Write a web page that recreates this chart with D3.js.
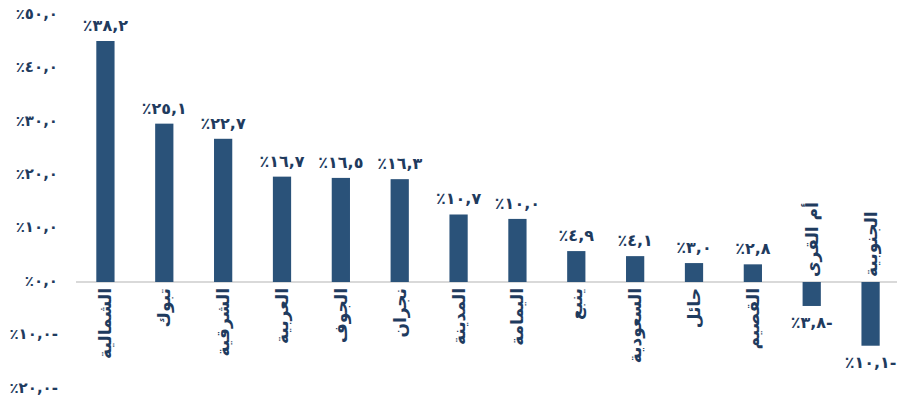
<!DOCTYPE html>
<html lang="ar">
<head>
    <meta charset="UTF-8">
    <title>chart</title>
    <script src="https://cdn.jsdelivr.net/npm/d3@7"></script>
    <style>
        body { margin: 0; background: #fff; }
        text { font-family: "DejaVu Sans", sans-serif; font-weight: bold; fill: #1f3b5e; }
    </style>
</head>
<body>
<script>
    const categories = ['الشمالية', 'تبوك', 'الشرقية', 'العربية', 'الجوف', 'نجران', 'المدينة',
        'اليمامة', 'ينبع', 'السعودية', 'حائل', 'القصيم', 'أم القرى', 'الجنوبية']
    const values = [38.2, 25.1, 22.7, 16.7, 16.5, 16.3, 10.7, 10.0, 4.9, 4.1, 3.0, 2.8, -3.8, -10.1]
    const axisTicks = [-20, -10, 0, 10, 20, 30, 40, 50]

    const [width, height] = [897, 403]
    const arDigits = '٠١٢٣٤٥٦٧٨٩'
    const toAr = s => s.replace(/[0-9]/g, d => arDigits[+d])
    // visual order: percent sign, digits, minus sign on the right
    const fmt = v => '٪' + toAr(Math.abs(v).toFixed(1).replace('.', ',')) + (v < 0 ? '-' : '')

    const x = d3.scaleBand().domain(categories).range([76, 900]).paddingInner(0.69).paddingOuter(0.345)
    const y = d3.scaleLinear().domain([0, 38.2]).range([282, 41])
    // the printed axis labels use their own spacing
    const yAxisScale = d3.scaleLinear().domain([-20, 50]).range([387, 13])

    const svg = d3.select('body').append('svg')
        .attr('width', width)
        .attr('height', height)

    const axis = d3.axisLeft(yAxisScale).tickValues(axisTicks).tickSize(0).tickPadding(0).tickFormat(fmt)
    const gAxis = svg.append('g').attr('transform', 'translate(58,0)').call(axis)
    gAxis.select('.domain').remove()
    gAxis.selectAll('text')
        .attr('font-size', 15)
        .attr('font-family', null)
        .attr('letter-spacing', 0.8)
        .attr('dy', '0.35em')

    svg.append('line')
        .attr('x1', 76).attr('x2', width)
        .attr('y1', y(0)).attr('y2', y(0))
        .attr('stroke', '#d9d9d9')
        .attr('stroke-width', 2)

    const data = categories.map((c, i) => ({ name: c, value: values[i] }))

    svg.append('g').selectAll('rect').data(data)
        .enter().append('rect')
        .attr('x', d => x(d.name))
        .attr('width', x.bandwidth())
        .attr('y', d => Math.min(y(d.value), y(0)))
        .attr('height', d => Math.abs(y(d.value) - y(0)))
        .attr('fill', '#2a5279')

    svg.append('g').selectAll('text').data(data)
        .enter().append('text')
        .attr('x', d => x(d.name) + x.bandwidth() / 2)
        .attr('y', d => d.value >= 0 ? y(d.value) - 10 : y(d.value) + 22)
        .attr('text-anchor', 'middle')
        .attr('font-size', 16)
        .attr('letter-spacing', 1.2)
        .text(d => fmt(d.value))

    svg.append('g').selectAll('text').data(data)
        .enter().append('text')
        .attr('transform', d => {
            const cx = x(d.name) + x.bandwidth() / 2
            const cy = d.value >= 0 ? y(0) + 6 : y(0) - 5
            return `translate(${cx},${cy}) rotate(-90)`
        })
        .attr('text-anchor', d => d.value >= 0 ? 'end' : 'start')
        .attr('dy', '0.35em')
        .attr('font-size', 17)
        .text(d => d.name)
</script>
</body>
</html>
